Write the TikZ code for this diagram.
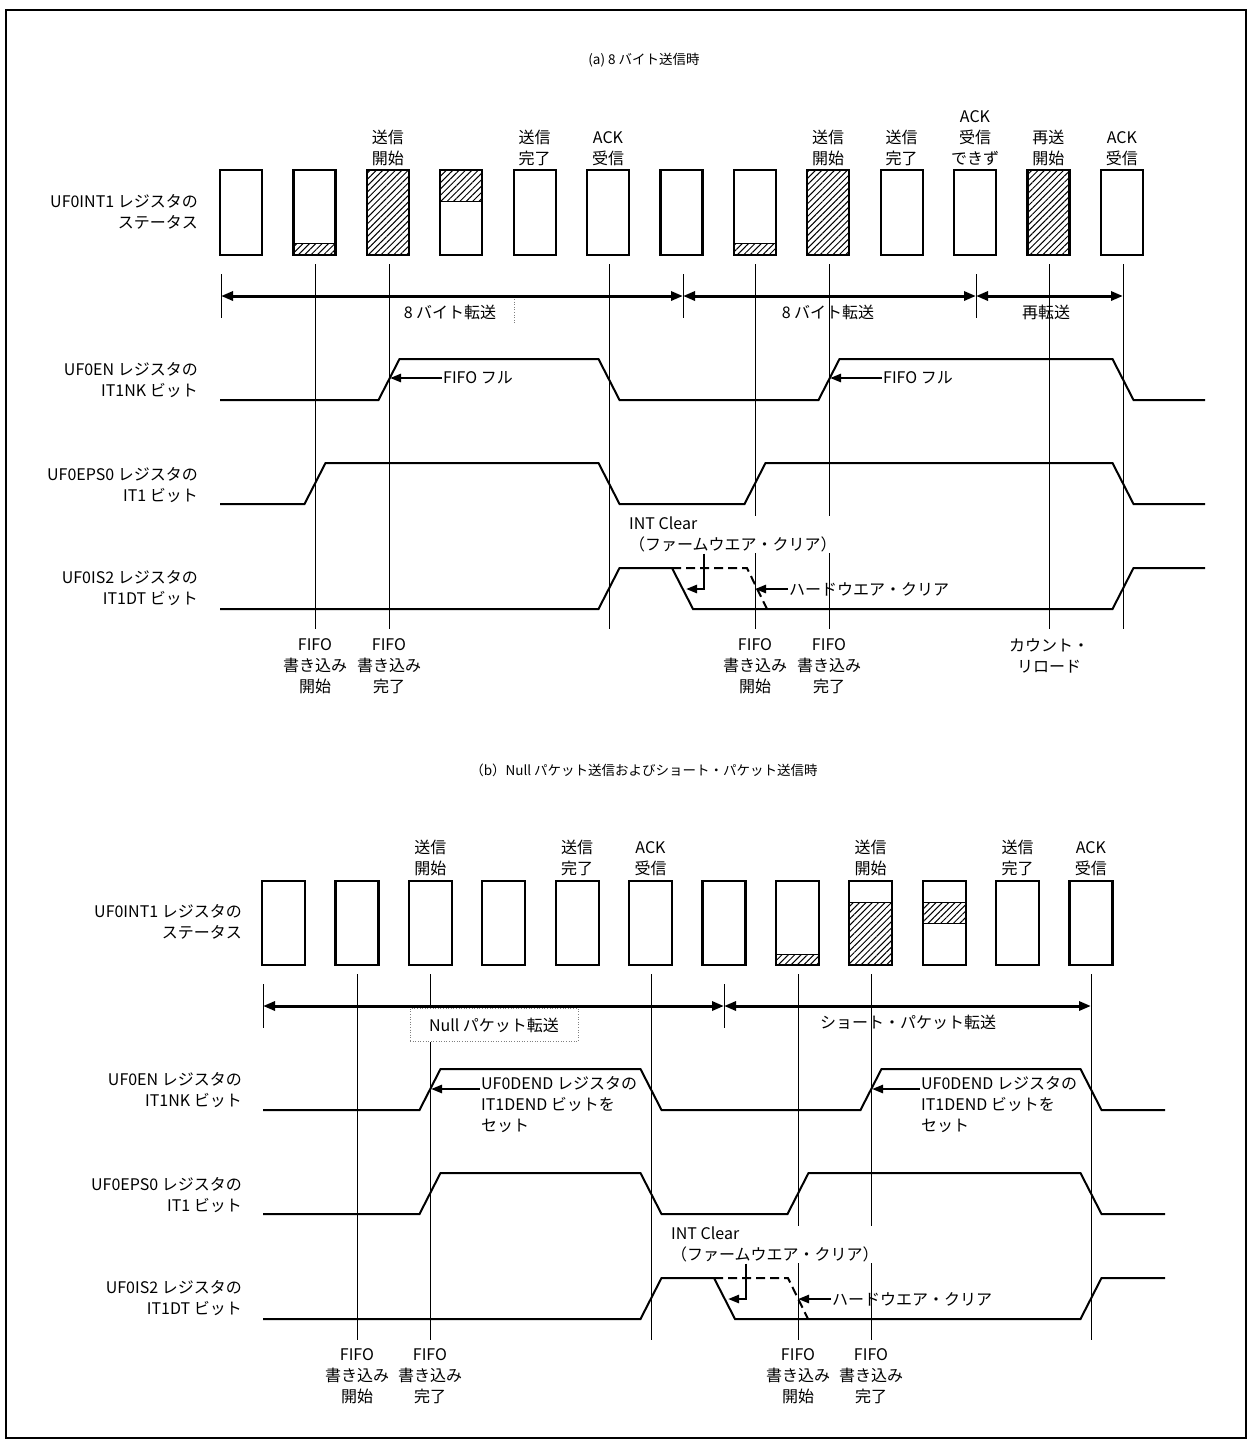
\documentclass[tikz,border=0pt]{standalone}
\usepackage{fontspec}
\setmainfont{Noto Sans CJK JP}
\usetikzlibrary{arrows.meta,patterns.meta,calc}
\newcommand{\lbf}{\fontsize{16}{21}\selectfont}
\newcommand{\ttf}{\fontsize{13.5}{16}\selectfont}
\tikzset{
  sig/.style={line width=2pt,line join=miter},
  box/.style={draw,line width=2.2pt},
  hatch/.style={draw,line width=1pt,pattern={Lines[angle=45,distance=4.5pt,line width=1pt]}},
  vl/.style={line width=0.8pt},
  dar/.style={{Triangle[length=12pt,width=9pt]}-{Triangle[length=12pt,width=9pt]},line width=3pt},
  pt/.style={-{Triangle[length=11pt,width=8pt]},line width=2.5pt},
  txt/.style={font=\lbf,inner sep=1pt,align=center},
  rl/.style={font=\lbf,inner sep=0pt,anchor=east,align=right},
  ttl/.style={font=\ttf,inner sep=1pt}
}
% signal: y-low, start, rise, fall, rise, fall, end
\newcommand{\sigw}[7]{\draw[sig] (#2,#1) -- (#3-10.5,#1) -- (#3+10.5,#1-41) -- (#4-10.5,#1-41)
  -- (#4+10.5,#1) -- (#5-10.5,#1) -- (#5+10.5,#1-41) -- (#6-10.5,#1-41) -- (#6+10.5,#1) -- (#7,#1);}

\begin{document}
\begin{tikzpicture}[x=1pt,y=-1pt]
\useasboundingbox (0,0) rectangle (1252,1444);
\draw[line width=2pt] (6,10) rectangle (1246,1438);

% ---------- (a) ----------
\node[ttl] (ttlA) at (644,60) {(a) 8 バイト送信時};
\foreach \i/\t/\b in {2/73/85,3/0/85,4/0/31,8/73/85,9/0/85,12/0/85}
  \draw[hatch] ({220+73.4*(\i-1)},{170+\t}) rectangle ++(42,{\b-\t});
\foreach \i in {1,...,13}
  \draw[box] ({220+73.4*(\i-1)},170) rectangle ++(42,85);
\foreach \i/\s in {3/{送信\\開始},5/{送信\\完了},6/{ACK\\受信},9/{送信\\開始},10/{送信\\完了},11/{ACK\\受信\\できず},12/{再送\\開始},13/{ACK\\受信}}
  \node[txt,anchor=south] (upA\i) at ({241+73.4*(\i-1)},167) {\s};
\node[rl] (stA) at (198,211.5) {UF0INT1 レジスタの\\ステータス};

\foreach \x in {315,389,609,755,829,1049,1123} \draw[vl] (\x,264) -- (\x,629);
\foreach \x in {221,683,976} \draw[vl] (\x,274) -- (\x,318);
\coordinate (pA1) at (221,296);
\coordinate (pA2) at (683,296);
\coordinate (pA3) at (976,296);
\coordinate (pA4) at (1123,296);
\draw[dar] (pA1) -- (pA2);
\draw[dar] (pA2) -- (pA3);
\draw[dar] (pA3) -- (pA4);
\node[txt] (byA1) at (450,312) {8 バイト転送};
\node[txt] (byA2) at (828,312) {8 バイト転送};
\node[txt] (reA) at (1046,312) {再転送};
\draw[gray,dotted,line width=0.6pt] (514,299) -- (514,324);

\node[rl] (enA) at (198,380) {UF0EN レジスタの\\IT1NK ビット};
\node[rl] (epA) at (198,485) {UF0EPS0 レジスタの\\IT1 ビット};
\node[rl] (isA) at (198,588) {UF0IS2 レジスタの\\IT1DT ビット};
\sigw{400}{220}{389}{609}{829}{1123}{1205}
\sigw{504}{220}{315}{609}{755}{1123}{1205}
\draw[sig] (220,609) -- (598.5,609) -- (619.5,568) -- (672,568) -- (693,609) -- (1112.5,609) -- (1133.5,568) -- (1205,568);
\draw[sig,dash pattern=on 9pt off 5pt] (672,568) -- (747,568) -- (767,609);

\coordinate (fullA1) at (390,378);
\coordinate (fullA2) at (830,378);
\node[txt,anchor=west] (fifoA1) at (442,378) {FIFO フル};
\node[txt,anchor=west] (fifoA2) at (882,378) {FIFO フル};
\draw[pt] (fifoA1.west) -- (fullA1);
\draw[pt] (fifoA2.west) -- (fullA2);

\node[txt,align=left,anchor=north west,fill=white] (fwA) at (628,516) {INT Clear\\（ファームウエア・クリア）};
\coordinate (fwkA) at (704,589);
\coordinate (fwtA) at (686,589);
\draw[pt] (fwA.south -| fwkA) -- (fwkA) -- (fwtA);
\coordinate (hwtA) at (755,589);
\node[txt,anchor=west] (hwA) at (788,589) {ハードウエア・クリア};
\draw[pt] (hwA.west) -- (hwtA);

\foreach \x/\s/\n in {315/{FIFO\\書き込み\\開始}/1,389/{FIFO\\書き込み\\完了}/2,755/{FIFO\\書き込み\\開始}/3,829/{FIFO\\書き込み\\完了}/4,1049/{カウント・\\リロード}/5}
  \node[txt,anchor=north] (dnA\n) at (\x,637) {\s};

% ---------- (b) ----------
\node[ttl] (ttlB) at (644,770) {（b）Null パケット送信およびショート・パケット送信時};
\foreach \i/\t/\b in {8/73/84,9/21/84,10/21/42}
  \draw[hatch] ({262+73.4*(\i-1)},{881+\t}) rectangle ++(43,{\b-\t});
\foreach \i in {1,...,12}
  \draw[box] ({262+73.4*(\i-1)},881) rectangle ++(43,84);
\foreach \i/\s in {3/{送信\\開始},5/{送信\\完了},6/{ACK\\受信},9/{送信\\開始},11/{送信\\完了},12/{ACK\\受信}}
  \node[txt,anchor=south] (upB\i) at ({283.5+73.4*(\i-1)},877) {\s};
\node[rl] (stB) at (242,921.5) {UF0INT1 レジスタの\\ステータス};

\foreach \x in {357,430,651,798,871,1091} \draw[vl] (\x,974) -- (\x,1340);
\foreach \x in {263,724} \draw[vl] (\x,984) -- (\x,1028);
\coordinate (pB1) at (263,1006);
\coordinate (pB2) at (724,1006);
\coordinate (pB3) at (1091,1006);
\draw[dar] (pB1) -- (pB2);
\draw[dar] (pB2) -- (pB3);
\node[txt,fill=white,draw=gray,dotted,line width=0.6pt,minimum width=168pt,minimum height=33pt] (nullB) at (494,1025) {Null パケット転送};
\node[txt] (shB) at (908,1022) {ショート・パケット転送};

\node[rl] (enB) at (242,1090) {UF0EN レジスタの\\IT1NK ビット};
\node[rl] (epB) at (242,1195) {UF0EPS0 レジスタの\\IT1 ビット};
\node[rl] (isB) at (242,1298) {UF0IS2 レジスタの\\IT1DT ビット};
\sigw{1110}{263}{430}{651}{871}{1091}{1165}
\sigw{1214}{263}{430}{651}{798}{1091}{1165}
\draw[sig] (263,1319) -- (640.5,1319) -- (661.5,1278) -- (714,1278) -- (735,1319) -- (1080.5,1319) -- (1101.5,1278) -- (1165,1278);
\draw[sig,dash pattern=on 9pt off 5pt] (714,1278) -- (788,1278) -- (808,1319);

\coordinate (tipB1) at (431,1089);
\coordinate (tipB2) at (872,1089);
\node[txt,align=left,anchor=north west] (setB1) at (480,1075) {UF0DEND レジスタの\\IT1DEND ビットを\\セット};
\node[txt,align=left,anchor=north west] (setB2) at (920,1075) {UF0DEND レジスタの\\IT1DEND ビットを\\セット};
\draw[pt] (setB1.west |- tipB1) -- (tipB1);
\draw[pt] (setB2.west |- tipB2) -- (tipB2);

\node[txt,align=left,anchor=north west,fill=white] (fwB) at (670,1226) {INT Clear\\（ファームウエア・クリア）};
\coordinate (fwkB) at (746,1299);
\coordinate (fwtB) at (728,1299);
\draw[pt] (fwB.south -| fwkB) -- (fwkB) -- (fwtB);
\coordinate (hwtB) at (798,1299);
\node[txt,anchor=west] (hwB) at (831,1299) {ハードウエア・クリア};
\draw[pt] (hwB.west) -- (hwtB);

\foreach \x/\s/\n in {357/{FIFO\\書き込み\\開始}/1,430/{FIFO\\書き込み\\完了}/2,798/{FIFO\\書き込み\\開始}/3,871/{FIFO\\書き込み\\完了}/4}
  \node[txt,anchor=north] (dnB\n) at (\x,1347) {\s};
\end{tikzpicture}
\end{document}
